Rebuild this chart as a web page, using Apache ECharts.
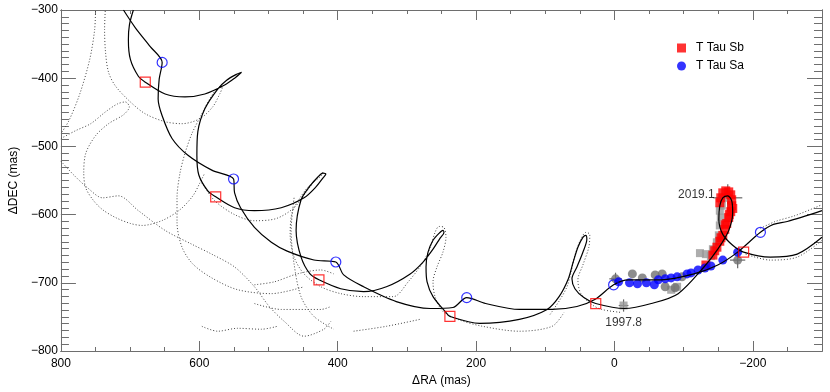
<!DOCTYPE html>
<html><head><meta charset="utf-8">
<script src="https://cdn.jsdelivr.net/npm/echarts@6/dist/echarts.min.js"></script>
<style>html,body{margin:0;padding:0;background:#fff}#c{width:830px;height:392px}</style>
</head><body><div id="c"></div>
<script>
// ---- tick values ----
const xMajorTicks = [800, 600, 400, 200, 0, -200];
const xMinorTicks = [800,750,700,650,600,550,500,450,400,350,300,250,200,150,100,50,0,-50,-100,-150,-200,-250,-300];
const yMajorTicks = [-300, -400, -500, -600, -700, -800];
const yMinorTicks = [];
for (let v = -800; v <= -300; v += 10) yMinorTicks.push(v);

// ---- model tracks (RA, DEC in mas) ----
const saTrack = [[709.6,-300],[692.4,-326.1],[670.9,-353.6],[653.7,-376.8],[658.0,-401.4],[659.5,-430.4],[653.7,-455.1],[639.4,-488.4],[616.4,-513.0],[582.0,-534.8],[550.5,-547.8],[549.0,-568.1],[540.4,-589.9],[520.3,-618.8],[495.9,-640.6],[473.0,-653.6],[434.3,-666.6],[402.7,-669.5],[391.3,-688.4],[362.6,-705.8],[315.3,-727.5],[266.5,-737.7],[233.5,-736.2],[213.5,-721.7],[186.2,-730.4],[137.4,-739.1],[90.1,-739.1],[54.2,-734.8],[28.4,-724.6],[1.2,-702.9],[-20.3,-695.6],[-67.6,-695.6],[-115.0,-686.9],[-149.4,-673.9],[-178.1,-655.0],[-211.0,-626.0],[-229.7,-614.4],[-249.8,-610.1],[-300,-594.2]];
const sbTrack = [[695.3,-300],[701.0,-321.7],[702.5,-343.5],[699.6,-372.5],[688.1,-397.1],[678.1,-405.8],[649.4,-423.2],[620.7,-427.5],[592.0,-423.2],[563.4,-410.1],[549.0,-400.0],[539.0,-391.3],[546.2,-394.2],[560.5,-402.9],[573.4,-415.9],[592.0,-444.9],[602.1,-478.3],[603.5,-513.0],[600.7,-542.0],[587.7,-565.2],[576.3,-573.9],[549.0,-589.9],[520.3,-594.2],[481.6,-589.9],[448.6,-575.4],[431.4,-559.4],[421.4,-546.4],[417.1,-540.6],[421.4,-539.1],[428.6,-544.9],[440.0,-558.0],[452.9,-578.3],[460.1,-623.2],[452.9,-662.3],[440.0,-687.0],[427.1,-695.6],[395.6,-708.7],[362.6,-713.0],[329.6,-705.8],[295.2,-687.0],[276.6,-669.6],[262.2,-650.7],[252.2,-634.8],[246.4,-626.1],[247.9,-623.2],[253.6,-627.5],[262.2,-637.7],[269.4,-655.1],[272.3,-676.8],[270.8,-698.6],[262.2,-720.3],[243.6,-743.5],[237.8,-749.3],[194.8,-759.4],[137.4,-753.6],[97.3,-739.1],[80.0,-720.3],[67.2,-695.6],[60.0,-671.0],[52.8,-647.8],[45.6,-633.3],[41.3,-630.4],[39.9,-636.2],[45.6,-655.1],[54.2,-676.8],[61.4,-694.2],[57.1,-708.7],[44.2,-721.7],[27.0,-730.4],[-14.6,-737.7],[-53.3,-730.4],[-92.1,-715.9],[-129.4,-676.8],[-149.4,-650.7],[-165.2,-623.2],[-170.9,-597.1],[-169.5,-579.7],[-163.8,-572.5],[-156.6,-575.4],[-152.3,-587.0],[-150.9,-607.2],[-156.6,-629.0],[-170.9,-644.9],[-186.7,-655.0],[-225.4,-662.3],[-264.2,-657.9],[-300,-633.3]];

// alternative (dotted) tracks
const altTrack1 = [[735.5,-292.7],[736.9,-329.0],[735.5,-362.3],[731.2,-391.3],[721.1,-411.6],[699.6,-434.8],[678.1,-452.2],[649.4,-463.8],[625.0,-466.7],[599.2,-459.4],[580.6,-442.0],[570.5,-423.2],[566.2,-413.0],[574.9,-415.9],[584.9,-430.4],[596.3,-452.2],[610.7,-481.2],[620.7,-510.1],[627.9,-539.1],[632.2,-575.4],[632.2,-611.6],[625.0,-647.8],[609.3,-672.5],[582.0,-692.8],[544.7,-710.1],[495.8,-715.9],[448.6,-705.8]];
const altTrack2 = [[800,-488.4],[778.5,-476.8],[757.0,-466.7],[735.5,-449.3],[718.3,-437.7],[706.8,-434.8],[701.1,-442.0],[709.6,-453.6],[731.2,-466.7],[749.8,-484.1],[764.1,-510.1],[767.0,-539.1],[764.1,-560.9],[752.7,-579.7],[739.8,-592.8],[721.1,-604.3],[699.6,-613.0],[682.4,-615.9],[653.7,-608.7],[627.9,-592.8],[609.3,-572.5],[599.2,-553.6],[592.1,-539.1]];
const altTrack3 = [[800,-521.7],[781.4,-542.0],[761.3,-560.9],[739.8,-575.4],[716.8,-572.5],[688.1,-594.2],[649.4,-623.2],[610.7,-643.5],[582.0,-658.0],[549.0,-676.8],[520.3,-705.8],[498.8,-734.8],[477.3,-756.5],[448.6,-778.3],[420.0,-768.1],[409.9,-756.5]];
const altTrack4 = [[596.3,-553.6],[577.7,-579.7],[549.0,-600.0],[520.3,-609.0],[488.8,-605.8],[463.0,-589.9],[444.3,-565.2],[430.0,-546.4],[421.4,-537.7],[424.3,-543.5],[441.5,-558.0],[454.4,-575.4],[465.9,-597.1],[468.7,-629.0],[463.0,-662.3],[448.6,-687.0],[424.3,-705.8],[395.6,-715.9],[362.6,-720.3],[319.6,-720.3],[298.1,-698.6],[276.5,-669.6],[265.1,-644.9],[259.3,-626.1],[253.6,-617.4],[246.4,-618.8],[243.5,-633.3],[247.9,-655.1],[256.5,-676.8],[262.2,-698.6],[259.3,-720.3],[247.9,-742.0],[226.4,-753.6],[190.5,-763.8],[137.4,-771.0],[90.1,-763.8],[72.9,-743.5]];
const altTrack5 = [[93.0,-746.4],[78.6,-724.6],[68.6,-705.8],[62.8,-684.1],[57.1,-659.4],[49.9,-639.1],[41.3,-626.1],[35.6,-629.0],[37.0,-647.8],[45.6,-673.9],[52.8,-695.6],[48.5,-715.9],[32.7,-731.9],[18.4,-739.1],[-10.3,-743.5]];
const altTrack6 = [[-211.0,-620.2],[-232.5,-610.1],[-261.2,-601.4],[-300,-585.5]];
const altTrack7 = [[-189.6,-658.0],[-225.4,-666.7],[-264.2,-662.3],[-300,-637.7]];
const altTrack8 = [[520.3,-702.9],[491.7,-698.6],[458.7,-687.0],[424.3,-681.2],[405.6,-687.0]];
const altTrack9 = [[520.3,-730.4],[481.6,-739.1],[424.3,-739.1],[409.9,-734.8]];
const altTrack10 = [[596.3,-763.8],[573.4,-771.0],[544.7,-766.7],[510.3,-768.1],[487.3,-763.8]];
const altTrack11 = [[377.0,-771.0],[329.6,-763.8],[281.1,-753.6]];
const altTrack12 = [[463.0,-575.4],[467.3,-623.2],[463.0,-672.5],[453.0,-720.3],[434.3,-749.3],[405.6,-768.1]];
const altTrack13 = [[749.8,-292.7],[751.3,-329.0],[758.4,-372.5],[772.8,-423.2],[788.5,-462.3],[800,-481.2]];

// epoch markers on the tracks
const saEpochs = [[653.7,-376.8],[550.5,-547.8],[402.7,-669.5],[213.5,-721.7],[1.2,-702.9],[-211.0,-626.0]];
const sbEpochs = [[678.1,-405.8],[576.3,-573.9],[427.1,-695.6],[237.8,-749.3],[27.0,-730.4],[-186.7,-655.0]];

// observations
const saObs = [[-6.0,-698.6],[-21.8,-700.0],[-33.3,-701.5],[-46.2,-700.0],[-57.7,-702.9],[-63.4,-695.7],[-73.4,-694.2],[-82.0,-692.8],[-90.6,-691.3],[-105.0,-687.0],[-110.7,-685.5],[-120.8,-681.2],[-130.8,-678.3],[-139.4,-675.4],[-156.6,-666.7],[-178.1,-655.1]];
const sbObs = [[-132.2,-673.9],[-142.3,-659.4],[-148.1,-647.8],[-152.3,-639.1],[-156.6,-630.4],[-159.5,-621.7],[-162.3,-613.0],[-165.2,-604.4],[-168.1,-595.7],[-169.5,-587.0],[-169.5,-578.3],[-168.1,-571.0],[-165.2,-566.7],[-160.9,-565.2],[-156.6,-568.1],[-153.7,-575.4],[-152.3,-582.6],[-171,-591],[-166,-600],[-160,-615],[-154,-634],[-145,-653]];
const oldSbObs = [[-13.2,-733.3],[-82.0,-710.2],[-90.6,-705.8],[-123.6,-656.5],[-132.2,-658.0],[-139.4,-660.9],[-142.3,-650.7],[-148.0,-640.6],[-150.9,-630.4],[-152.3,-615.9],[-153.7,-604.3],[-152.3,-594.2],[-155.2,-587.0],[-163.8,-575.4]];
const oldSaObs = [[-1.6,-694.2],[-25.9,-687.0],[-40.3,-692.8],[-58.9,-688.4],[-69.0,-687.0],[-73.3,-705.8],[-87.7,-707.2],[-97.7,-691.3],[-178.1,-666.7]];
// error bars: RA, DEC, dRA, dDEC
const errorBars = [[-13.2,-733.3,7,9],[-1.6,-694.2,9,9],[-163.8,-575.4,21,20],[-178.1,-666.7,11,12]];
// annotations: text, RA, DEC
const annotations = [['2019.1',-160.9,-571.0,'left',11],['1997.8',-13.2,-733.3,'bottom',11]];

const FONT = 'Liberation Sans, Arial, sans-serif';
const fmt = v => (v < 0 ? '\u2212' + Math.abs(v) : String(v));
const frameColor = '#6e6e6e';

function xAxisDef(pos, ticks, len, labels) {
  return {
    type: 'value', position: pos, min: -300, max: 800, inverse: true,
    axisLine: { show: true, onZero: false, lineStyle: { color: frameColor, width: 1 } },
    axisTick: { show: true, inside: true, length: len, customValues: ticks, lineStyle: { color: frameColor } },
    axisLabel: labels ? { show: true, customValues: xMajorTicks, formatter: fmt, color: '#000', fontSize: 12, fontFamily: FONT, margin: 7 } : { show: false },
    splitLine: { show: false },
    name: labels ? '\u0394RA (mas)' : '', nameLocation: 'middle', nameGap: 24,
    nameTextStyle: { color: '#000', fontSize: 12, fontFamily: FONT }
  };
}
function yAxisDef(pos, ticks, len, labels) {
  return {
    type: 'value', position: pos, min: -800, max: -300,
    axisLine: { show: true, onZero: false, lineStyle: { color: frameColor, width: 1 } },
    axisTick: { show: true, inside: true, length: len, customValues: ticks, lineStyle: { color: frameColor } },
    axisLabel: labels ? { show: true, customValues: yMajorTicks, formatter: fmt, color: '#000', fontSize: 12, fontFamily: FONT, margin: 3 } : { show: false },
    splitLine: { show: false },
    name: labels ? '\u0394DEC (mas)' : '', nameLocation: 'middle', nameGap: 35, nameRotate: 90,
    nameTextStyle: { color: '#000', fontSize: 12, fontFamily: FONT }
  };
}

const dotted = (d) => ({ type: 'line', data: d, showSymbol: false, smooth: 0.3, z: 1, silent: true,
  lineStyle: { color: '#444', width: 1, type: [1, 2] } });
const solid = (d) => ({ type: 'line', data: d, showSymbol: false, smooth: 0.3, z: 5, silent: true,
  lineStyle: { color: '#000', width: 1.2 } });

const option = {
  animation: false,
  backgroundColor: '#fff',
  grid: { left: 55, right: 8, top: 10, bottom: 37 },
  xAxis: [xAxisDef('bottom', xMajorTicks, 10, true), xAxisDef('bottom', xMinorTicks, 4, false),
          xAxisDef('top', xMajorTicks, 10, false), xAxisDef('top', xMinorTicks, 4, false)],
  yAxis: [yAxisDef('left', yMajorTicks, 15, true), yAxisDef('left', yMinorTicks, 8, false),
          yAxisDef('right', yMajorTicks, 15, false), yAxisDef('right', yMinorTicks, 8, false)],
  legend: {
    data: [{ name: 'T Tau Sb', icon: 'rect' }, { name: 'T Tau Sa', icon: 'circle' }],
    orient: 'vertical', left: 672, top: 37, itemWidth: 9, itemHeight: 9, itemGap: 6,
    textStyle: { fontSize: 12, fontFamily: FONT, color: '#000', padding: [0, 0, 0, 5] }
  },
  series: [
    dotted(altTrack1), dotted(altTrack2), dotted(altTrack3), dotted(altTrack4), dotted(altTrack5),
    dotted(altTrack6), dotted(altTrack7), dotted(altTrack8), dotted(altTrack9), dotted(altTrack10),
    dotted(altTrack11), dotted(altTrack12), dotted(altTrack13),
    { type: 'custom', z: 2, silent: true, data: errorBars,
      renderItem: (p, api) => {
        const x = api.value(0), y = api.value(1), dx = api.value(2), dy = api.value(3);
        const a = api.coord([x - dx, y]), b = api.coord([x + dx, y]);
        const c = api.coord([x, y - dy]), d = api.coord([x, y + dy]);
        const st = { stroke: '#666', lineWidth: 1.2 };
        return { type: 'group', children: [
          { type: 'line', shape: { x1: a[0], y1: a[1], x2: b[0], y2: b[1] }, style: st },
          { type: 'line', shape: { x1: c[0], y1: c[1], x2: d[0], y2: d[1] }, style: st }] };
      } },
    { type: 'scatter', data: oldSbObs, symbol: 'rect', symbolSize: 8, z: 3, itemStyle: { color: '#999' } },
    { type: 'scatter', data: oldSaObs, symbol: 'circle', symbolSize: 9, z: 3, itemStyle: { color: '#707070' } },
    { name: 'T Tau Sb', type: 'scatter', data: sbObs, symbol: 'rect', symbolSize: 9, z: 4, itemStyle: { color: '#ff0000' } },
    { name: 'T Tau Sa', type: 'scatter', data: saObs, symbol: 'circle', symbolSize: 9, z: 4, itemStyle: { color: '#0000ff' } },
    solid(sbTrack), solid(saTrack),
    { type: 'scatter', data: sbEpochs, symbol: 'rect', symbolSize: 10, z: 6,
      itemStyle: { color: 'rgba(0,0,0,0)', borderColor: '#ff0000', borderWidth: 1.2 } },
    { type: 'scatter', data: saEpochs, symbol: 'circle', symbolSize: 10, z: 6,
      itemStyle: { color: 'rgba(0,0,0,0)', borderColor: '#0000ff', borderWidth: 1.2 } },
    { type: 'scatter', z: 7, symbolSize: 0, silent: true,
      data: annotations.map(a => ({ value: [a[1], a[2]], label: { show: true, formatter: a[0], position: a[3], distance: a[4] } })),
      label: { color: '#000', fontSize: 12, fontFamily: FONT } }
  ]
};
echarts.init(document.getElementById('c')).setOption(option);
</script></body></html>
